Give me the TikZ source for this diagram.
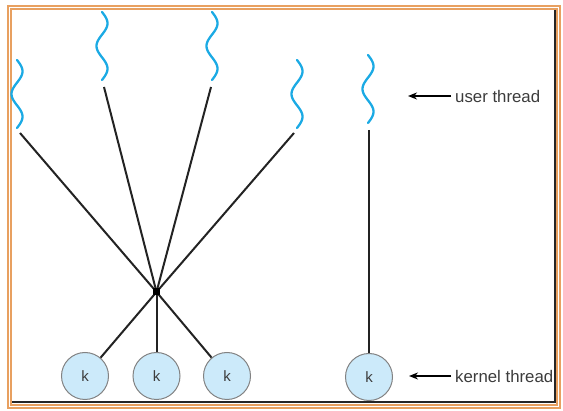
\documentclass[tikz,border=0pt]{standalone}
\usepackage{fontspec}
\setmainfont{Liberation Sans}
\usetikzlibrary{arrows.meta}
\definecolor{frameorange}{RGB}{232,160,96}
\definecolor{wavblue}{RGB}{27,170,228}
\definecolor{kfill}{RGB}{204,234,250}
\definecolor{kborder}{RGB}{130,130,130}
\definecolor{txtgray}{RGB}{60,60,60}
\definecolor{linegray}{RGB}{35,35,35}
\tikzset{
  wave/.style={wavblue, line width=2.3pt, line cap=round},
  conn/.style={linegray, line width=2pt},
  kthread/.style={circle, draw=kborder, line width=1pt, fill=kfill, minimum size=47pt, inner sep=0pt, text=txtgray, font=\fontsize{15}{18}\selectfont},
  hubnode/.style={rectangle, fill=black, minimum size=7pt, inner sep=0pt},
  lbl/.style={anchor=west, text=txtgray, inner sep=0pt, font=\fontsize{16.8}{20}\selectfont},
  lblarrow/.style={-{Stealth[length=9pt,width=7pt]}, line width=1.6pt, black}
}
\newcommand{\userwave}[3]{%
  \draw[wave, shift={(#2,#3)}] plot[domain=0:540, samples=80, variable=\t] ({5.5*sin(\t)},{\t/540*68});}
\begin{document}
\begin{tikzpicture}[x=1pt,y=-1pt]
\useasboundingbox (0,0) rectangle (563,411);
% frame
\draw[frameorange, line width=4.5pt] (9.5,7.5) rectangle (558.5,406.5);
\draw[white, line width=1.2pt] (9.5,7.5) rectangle (558.5,406.5);
\draw[black!85, line width=2pt] (554.5,10) -- (554.5,402.5) -- (12,402.5);
% user threads
\userwave{u1w}{17}{60}
\userwave{u2w}{102}{12}
\userwave{u3w}{212}{12}
\userwave{u4w}{297}{60}
\userwave{u5w}{368}{55}
\coordinate (u1) at (20,133);
\coordinate (u2) at (104,87);
\coordinate (u3) at (211,87);
\coordinate (u4) at (294,133);
\coordinate (u5) at (369,130);
% hub
\coordinate (hub) at (156.5,292);
% kernel threads
\node[kthread] (k1) at (85,376) {k};
\node[kthread] (k2) at (156.5,376) {k};
\node[kthread] (k3) at (227,376) {k};
\node[kthread] (k4) at (369,377) {k};
% connectors
\foreach \u in {u1,u2,u3,u4} \draw[conn] (\u) -- (hub);
\foreach \k in {k1,k2,k3} \draw[conn] (hub) -- (\k);
\draw[conn] (u5) -- (k4);
\node[hubnode] (hubmark) at (hub) {};
% labels
\coordinate (ua) at (451,96);
\coordinate (ka) at (451,376);
\node[lbl] (ut) at (455,96) {user thread};
\node[lbl] (kt) at (455,376) {kernel thread};
\draw[lblarrow] (ua) -- (408,96);
\draw[lblarrow] (ka) -- (409,376);
\end{tikzpicture}
\end{document}
